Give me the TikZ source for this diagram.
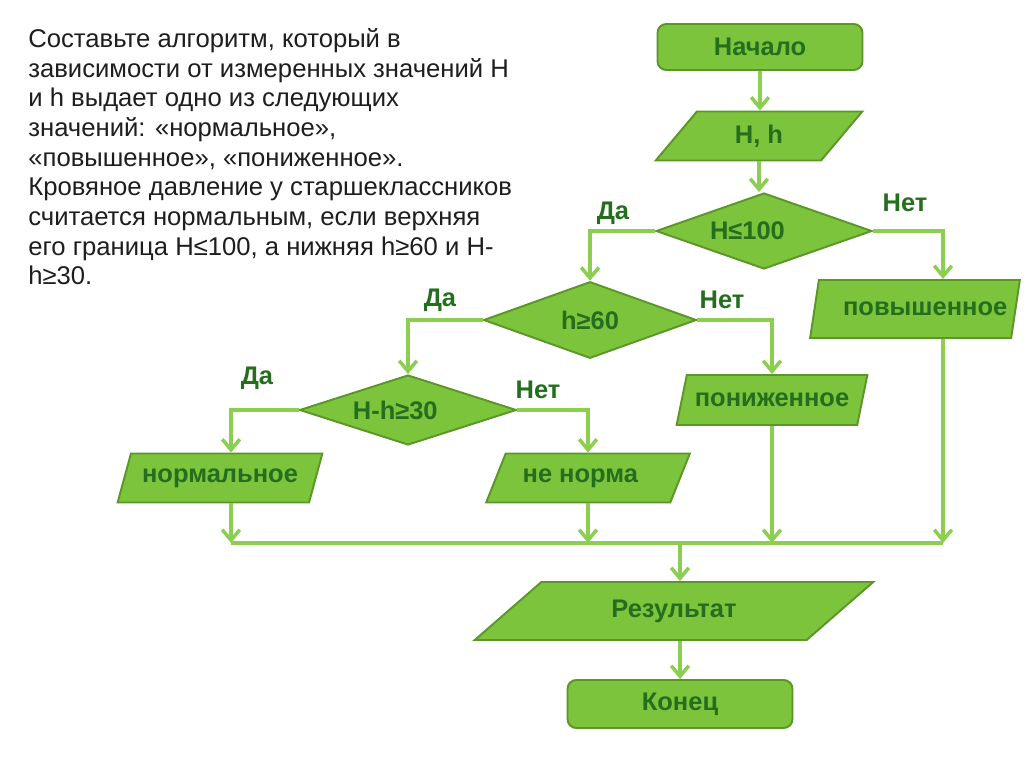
\documentclass[tikz,border=0pt]{standalone}
\usepackage{fontspec}
\setmainfont{Liberation Sans}
\usetikzlibrary{shapes.geometric,arrows.meta,calc}

\definecolor{boxfill}{RGB}{124,196,60}
\definecolor{boxline}{RGB}{92,150,40}
\definecolor{boxtext}{RGB}{36,110,30}
\definecolor{flowline}{RGB}{140,206,80}
\definecolor{tasktext}{RGB}{30,30,30}

% text set off the centre of a diamond
\newcommand{\leftby}[2]{\makebox[0pt]{#2\hspace*{#1}}}

\begin{document}
\begin{tikzpicture}[x=0.02cm,y=-0.02cm,>={Straight Barb[length=6pt,width=10pt]},
    every node/.style={font=\fontsize{14.5}{17}\selectfont\bfseries,text=boxtext},
    term/.style={rectangle,rounded corners=5pt,draw=boxline,fill=boxfill,line width=1.1pt},
    io/.style={trapezium,trapezium stretches=true,draw=boxline,fill=boxfill,line width=1.1pt,inner sep=0pt},
    cond/.style={diamond,draw=boxline,fill=boxfill,line width=1.1pt,inner sep=0pt},
    flow/.style={draw=flowline,line width=2pt,->},
    bus/.style={draw=flowline,line width=2pt}]
 %   \draw[help lines] (0,0) grid[step=50] (1024,767);
    \useasboundingbox[fill=white] (0,0) rectangle (1024,767);

    \node[font=\fontsize{14.6}{16.9}\selectfont,text=tasktext,align=left,anchor=north west,inner sep=0pt] (task) at (28,28)
        {Составьте алгоритм, который в\\
         зависимости от измеренных значений H\\
         и h выдает одно из следующих\\
         значений: «нормальное»,\\
         «повышенное», «пониженное».\\
         Кровяное давление у старшеклассников\\
         считается нормальным, если верхняя\\
         его граница H≤100, а нижняя h≥60 и H-\\
         h≥30.};

    \node[term,minimum width=4.1cm,minimum height=0.92cm] (start) at (760,47) {Начало};
    \node[io,trapezium left angle=54.5,trapezium right angle=125.5,minimum width=4.14cm,minimum height=0.98cm] (hh) at (759,136) {H, h};
    \node[cond,minimum width=4.32cm,minimum height=1.52cm] (c1) at (764,231) {\leftby{1.3em}{H≤100}};
    \node[io,trapezium left angle=59,trapezium right angle=121,minimum width=4.2cm,minimum height=1.16cm] (up) at (915,309) {\hspace*{0.8em}повышенное};
    \node[cond,minimum width=4.26cm,minimum height=1.46cm] (c2) at (590,320) {h≥60};
    \node[io,trapezium left angle=56.6,trapezium right angle=123.4,minimum width=3.84cm,minimum height=1.0cm] (low) at (772,400) {пониженное};
    \node[cond,minimum width=4.34cm,minimum height=1.4cm] (c3) at (408,410) {\leftby{1em}{H-h≥30}};
    \node[io,trapezium left angle=58.5,trapezium right angle=121.5,minimum width=4.1cm,minimum height=0.98cm] (norm) at (220,478) {нормальное};
    \node[io,trapezium left angle=50.8,trapezium right angle=129.2,minimum width=4.1cm,minimum height=0.98cm] (bad) at (588,478) {не норма\hspace*{0.6em}};
    \node[io,trapezium left angle=36,trapezium right angle=144,minimum width=7.98cm,minimum height=1.16cm] (res) at (674,611) {Результат};
    \node[term,minimum width=4.5cm,minimum height=0.96cm] (stop) at (680,704) {Конец};

    \node (yes1) at (613,213) {Да};
    \node (no1) at (905,203) {Нет};
    \node (yes2) at (440,300) {Да};
    \node (no2) at (722,300) {Нет};
    \node (yes3) at (257,378) {Да};
    \node (no3) at (538,390) {Нет};

    \draw[flow] (start.south) -- (start.south |- hh.north);
    \draw[flow] (hh.south) -- (hh.south |- c1.north);
    \draw[flow] (c1.west) -| (c2.north);
    \coordinate (upin) at ($(up.north)+(28,0)$);
    \draw[flow] (c1.east) -| (upin);
    \draw[flow] (c2.east) -| (low.north);
    \draw[flow] (c2.west) -| (c3.north);
    \coordinate (normin) at ($(norm.north)+(11,0)$);
    \draw[flow] (c3.west) -| (normin);
    \draw[flow] (c3.east) -| (bad.north);

    \coordinate (join) at (680,543);
    \coordinate (normout) at ($(norm.south)+(11,0)$);
    \coordinate (upout) at ($(up.south)+(28,0)$);
    \draw[flow] (normout) -- (normout |- join);
    \draw[flow] (bad.south) -- (bad.south |- join);
    \draw[flow] (low.south) -- (low.south |- join);
    \draw[flow] (upout) -- (upout |- join);
    \draw[bus] (normout |- join) -- (upout |- join);
    \draw[flow] (join) -- (join |- res.north);
    \draw[flow] (stop.north |- res.south) -- (stop.north);

\end{tikzpicture}
\end{document}
